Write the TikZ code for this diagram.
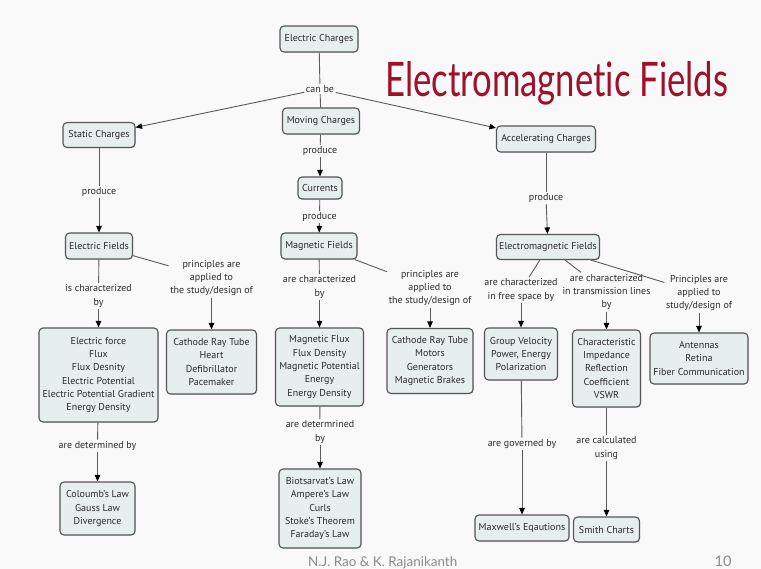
\documentclass[tikz,border=0pt]{standalone}
\usepackage{fontspec}
\setmainfont{PT Sans}
\newfontfamily\titlefont[Ligatures={NoCommon,NoDiscretionary}]{Lato}
\usetikzlibrary{arrows.meta,shadows}
\definecolor{bg}{HTML}{F9F9F9}
\definecolor{boxfill}{HTML}{E7EEEE}
\definecolor{boxline}{HTML}{555555}
\definecolor{linkc}{HTML}{5A5A5A}
\definecolor{txt}{HTML}{2A2A2A}
\definecolor{titlered}{HTML}{A0102A}
\definecolor{foot}{HTML}{8A8A8A}
\tikzset{
 concept/.style={draw=boxline, line width=1.1pt, fill=boxfill, rounded corners=4pt, align=center, inner sep=2pt, text=txt, font=\fontsize{10}{13.3}\selectfont, drop shadow={shadow xshift=0.7pt, shadow yshift=-0.7pt, opacity=0.3}},
 link/.style={align=center, inner sep=1.5pt, text=txt, font=\fontsize{10}{13.3}\selectfont},
 conn/.style={draw=linkc, line width=0.9pt},
 arr/.style={conn, -{Triangle[length=6.5pt,width=5.5pt,color=black]}},
}
\begin{document}
\begin{tikzpicture}[x=1pt,y=-1pt]
\fill[bg] (0,0) rectangle (761,569);
\useasboundingbox (0,0) rectangle (761,569);
% title and footer
\node[anchor=base west, inner sep=0, text=titlered] (title) at (385,97) {\resizebox{343pt}{35pt}{\titlefont Electromagnetic Fields}};
\node[anchor=base west, inner sep=0, text=foot] (footer) at (308,566) {\resizebox{149pt}{!}{\titlefont N.J. Rao \& K. Rajanikanth}};
\node[anchor=base, inner sep=0, text=foot] (pagenum) at (723,566) {\fontsize{14.5}{15}\titlefont 10};
% concepts
\node[concept, minimum width=78pt, minimum height=26pt] (ec) at (319,39) {Electric Charges};
\node[concept, minimum width=72pt, minimum height=25pt] (sc) at (99,135) {Static Charges};
\node[concept, minimum width=77pt, minimum height=26pt] (mc) at (321,121) {Moving Charges};
\node[concept, minimum width=99pt, minimum height=26pt] (ac) at (546,139) {Accelerating Charges};
\node[concept, minimum width=44pt, minimum height=22pt] (cur) at (320,188) {Currents};
\node[concept, minimum width=67pt, minimum height=26pt] (ef) at (99,246) {Electric Fields};
\node[concept, minimum width=76pt, minimum height=26pt] (mf) at (319,246) {Magnetic Fields};
\node[concept, minimum width=103pt, minimum height=25pt] (emf) at (548,247) {Electromagnetic Fields};
\node[concept, minimum width=119pt, minimum height=94pt] (efp) at (98.5,375) {Electric force\\Flux\\Flux Desnity\\Electric Potential\\Electric Potential Gradient\\Energy Density};
\node[concept, minimum width=90pt, minimum height=64pt] (crt1) at (211.5,362) {Cathode Ray Tube\\Heart\\Defibrillator\\Pacemaker};
\node[concept, minimum width=88pt, minimum height=78pt] (mfp) at (319.5,367) {Magnetic Flux\\Flux Density\\Magnetic Potential\\Energy\\Energy Density};
\node[concept, minimum width=86pt, minimum height=65pt] (crt2) at (430,361) {Cathode Ray Tube\\Motors\\Generators\\Magnetic Brakes};
\node[concept, minimum width=73pt, minimum height=52pt] (gv) at (521,354) {Group Velocity\\Power, Energy\\Polarization};
\node[concept, minimum width=68pt, minimum height=77pt] (ch) at (606.5,368.5) {Characteristic\\Impedance\\Reflection\\Coefficient\\VSWR};
\node[concept, minimum width=98pt, minimum height=51pt] (ant) at (699,358.5) {Antennas\\Retina\\Fiber Communication};
\node[concept, minimum width=75pt, minimum height=53pt] (cl) at (97.5,508.5) {Coloumb's Law\\Gauss Law\\Divergence};
\node[concept, minimum width=82pt, minimum height=79pt] (bs) at (320,508.5) {Biotsarvat's Law\\Ampere's Law\\Curls\\Stoke's Theorem\\Faraday's Law};
\node[concept, minimum width=94pt, minimum height=26pt] (mx) at (522,528) {Maxwell's Eqautions};
\node[concept, minimum width=66pt, minimum height=25pt] (sm) at (606.5,529.5) {Smith Charts};
% linking phrases
\node[link] (canbe) at (320,89) {can be};
\node[link] (p1) at (99,192) {produce};
\node[link] (p2) at (320,151) {produce};
\node[link] (p3) at (319.5,217) {produce};
\node[link] (p4) at (546,198) {produce};
\node[link] (l1) at (98.5,296) {is characterized\\by};
\node[link] (l2) at (211.5,278) {principles are\\applied to\\the study/design of};
\node[link] (l3) at (319.5,287) {are characterized\\by};
\node[link] (l4) at (430,288) {principles are\\applied to\\the study/design of};
\node[link] (l5) at (521,290) {are characterized\\in free space by};
\node[link] (l6) at (606.5,292) {are characterized\\in transmission lines\\by};
\node[link] (l7) at (699,293) {Principles are\\applied to\\study/design of};
\node[link] (l8) at (97.5,446) {are determined by};
\node[link] (l9) at (320,432) {are determrined\\by};
\node[link] (l10) at (522,444) {are governed by};
\node[link] (l11) at (606.5,448) {are calculated\\using};
% connectors
\draw[conn] (ec) -- (canbe);
\draw[arr] (canbe) -- (sc);
\draw[conn] (canbe) -- (mc);
\draw[arr] (canbe) -- (ac);
\draw[conn] (sc) -- (p1);
\draw[arr] (p1) -- (ef);
\draw[conn] (mc) -- (p2);
\draw[arr] (p2) -- (cur);
\draw[conn] (cur) -- (p3);
\draw[arr] (p3) -- (mf);
\draw[conn] (ac) -- (p4);
\draw[arr] (p4) -- (emf);
\draw[conn] (ef) -- (l1);
\draw[arr] (l1) -- (efp);
\draw[conn] (ef) -- (l2);
\draw[arr] (l2) -- (crt1);
\draw[conn] (mf) -- (l3);
\draw[arr] (l3) -- (mfp);
\draw[conn] (mf) -- (l4);
\draw[arr] (l4) -- (crt2);
\draw[conn] (emf) -- (l5);
\draw[arr] (l5) -- (gv);
\draw[conn] (emf) -- (l6);
\draw[arr] (l6) -- (ch);
\draw[conn] (emf) -- (l7);
\draw[arr] (l7) -- (ant);
\draw[conn] (efp) -- (l8);
\draw[arr] (l8) -- (cl);
\draw[conn] (mfp) -- (l9);
\draw[arr] (l9) -- (bs);
\draw[conn] (gv) -- (l10);
\draw[arr] (l10) -- (mx);
\draw[conn] (ch) -- (l11);
\draw[arr] (l11) -- (sm);
\end{tikzpicture}
\end{document}
